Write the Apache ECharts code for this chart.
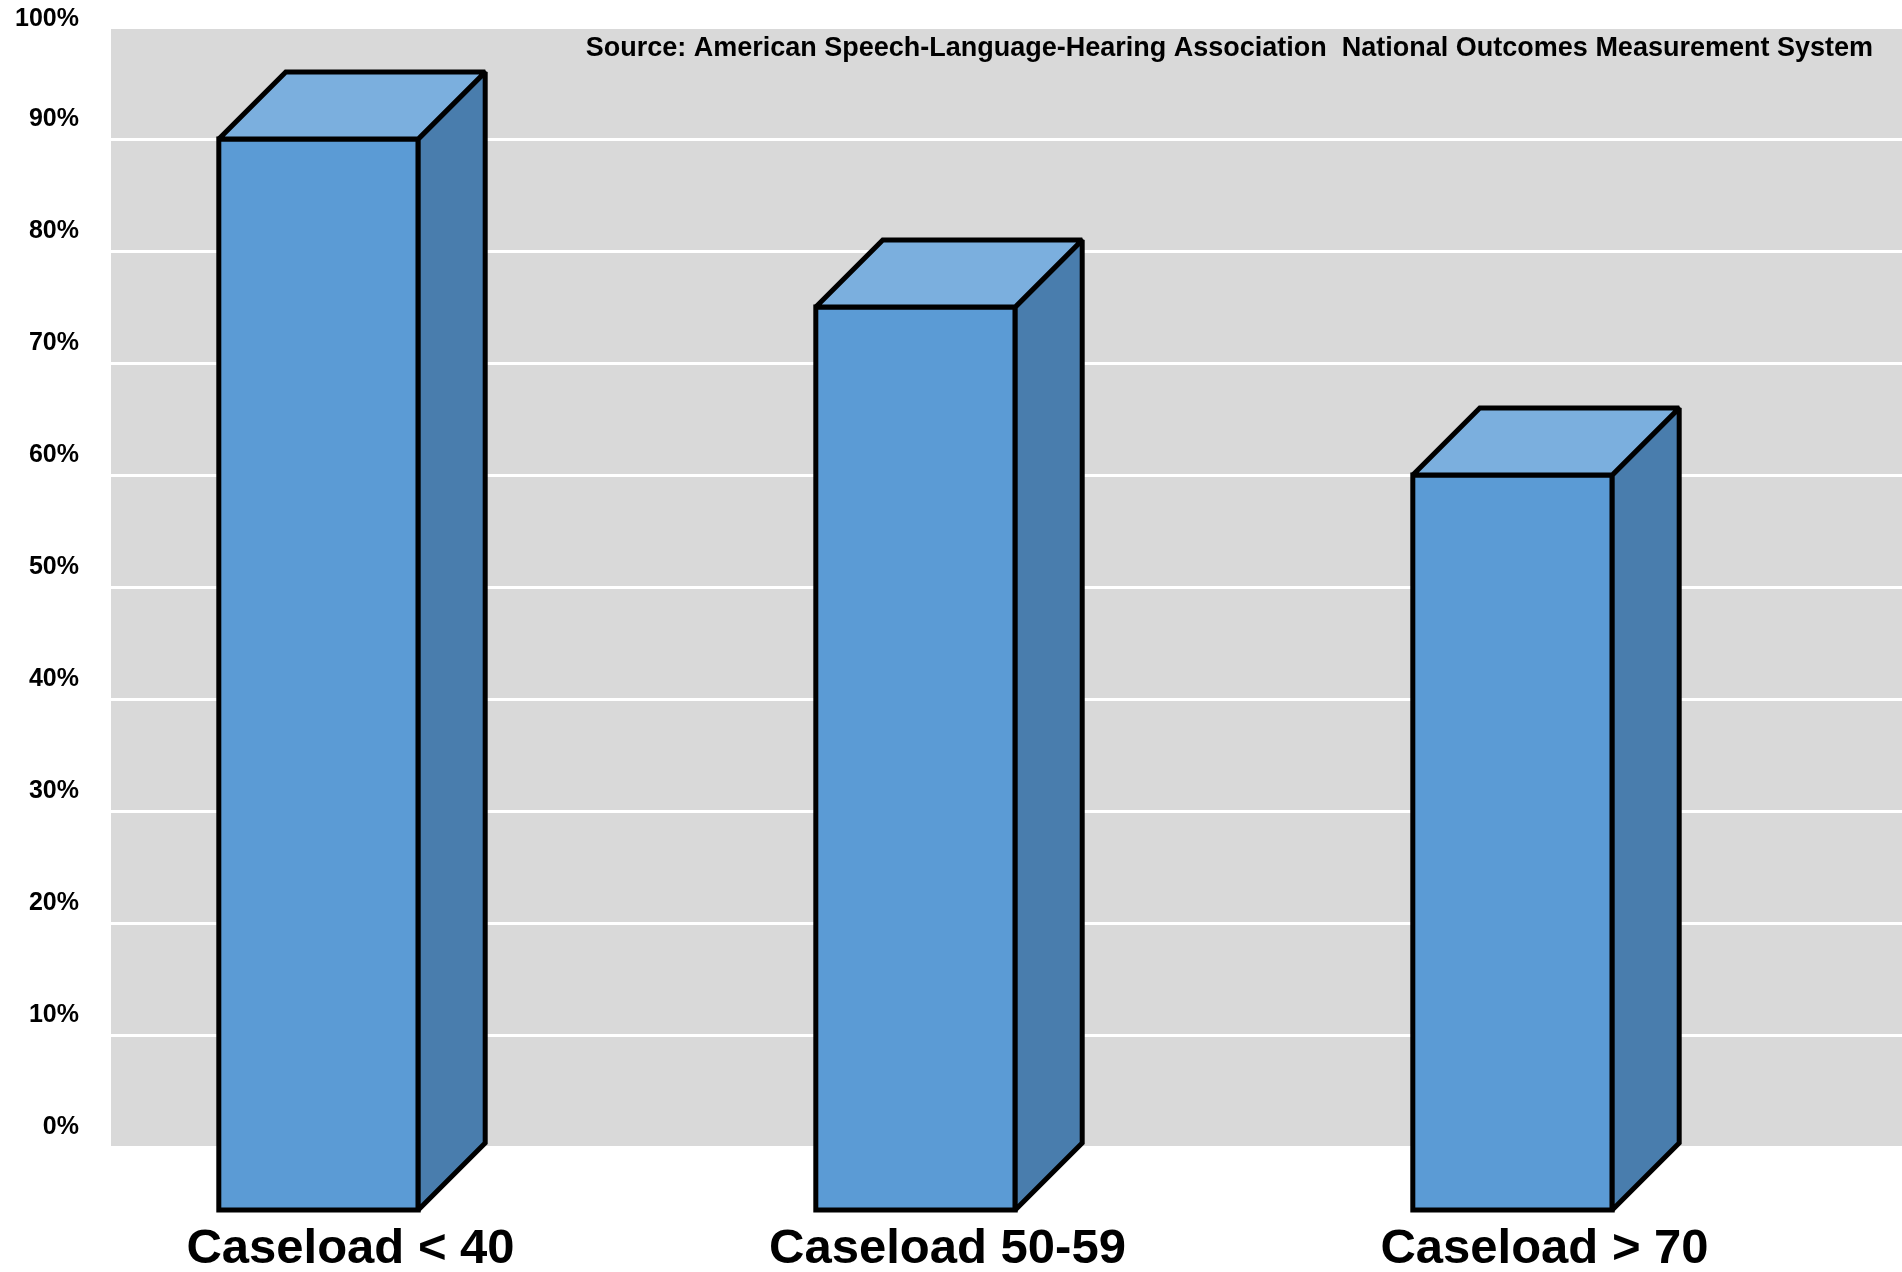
<!DOCTYPE html>
<html>
<head>
<meta charset="utf-8">
<script src="https://cdn.jsdelivr.net/npm/echarts@6/dist/echarts.min.js"></script>
<style>
  html, body { margin: 0; padding: 0; background: #fff; }
  #chart { width: 1902px; height: 1272px; }
</style>
</head>
<body>
<div id="chart"></div>
<script>
// data
const categories = ['Caseload < 40', 'Caseload 50-59', 'Caseload > 70']
const values = [90, 75, 60]
const yTicks = [0, 10, 20, 30, 40, 50, 60, 70, 80, 90, 100]
const sourceText = 'Source: American Speech-Language-Hearing Association  National Outcomes Measurement System'

const depth = 67
const shift = 91 // bars sit left of the band centre

const renderBox = (params, api) => {
  const top = api.coord([api.value(0), api.value(1)])
  const base = api.coord([api.value(0), 0])
  const w = api.size([1, 0])[0] * 0.334
  const x0 = top[0] - shift - w / 2
  const x1 = x0 + w
  const yT = top[1]
  const yB = base[1] + depth - 4
  const style = { stroke: '#000', lineWidth: 5, lineJoin: 'miter', miterLimit: 2 }
  return {
    type: 'group',
    children: [
      {
        type: 'polygon',
        shape: { points: [[x0, yT], [x1, yT], [x1, yB], [x0, yB]] },
        style: { ...style, fill: '#5b9bd5' }
      },
      {
        type: 'polygon',
        shape: { points: [[x1, yT], [x1 + depth, yT - depth], [x1 + depth, yB - depth], [x1, yB]] },
        style: { ...style, fill: '#497dad' }
      },
      {
        type: 'polygon',
        shape: { points: [[x0, yT], [x1, yT], [x1 + depth, yT - depth], [x0 + depth, yT - depth]] },
        style: { ...style, fill: '#7bafde' }
      }
    ]
  }
}

const labelFont = { fontFamily: 'Liberation Sans', fontWeight: 'bold', fontSize: 25, color: '#000' }

const option = {
  backgroundColor: '#fff',
  animation: false,
  title: {
    text: sourceText,
    right: 24,
    top: 30,
    textStyle: {
      fontFamily: 'Liberation Sans',
      fontWeight: 'bold',
      fontSize: 27,
      color: '#000'
    }
  },
  grid: {
    left: 111,
    right: 0,
    top: 27,
    bottom: 125,
    outerBoundsMode: 'none',
    show: true,
    backgroundColor: '#d9d9d9',
    borderWidth: 0
  },
  xAxis: {
    type: 'category',
    data: categories,
    axisLine: { show: false },
    axisTick: { show: false },
    axisLabel: {
      margin: 78,
      padding: [0, 118, 0, 0],
      fontFamily: 'Liberation Sans',
      fontWeight: 'bold',
      fontSize: 49,
      color: '#000'
    }
  },
  yAxis: {
    type: 'value',
    min: yTicks[0],
    max: yTicks[yTicks.length - 1],
    interval: 10,
    axisLine: { show: false },
    axisTick: { show: false },
    splitLine: { lineStyle: { color: '#fff', width: 3 } },
    axisLabel: {
      formatter: (v) => (v === 100 ? '{top|' + v + '%}' : '{n|' + v + '%}'),
      margin: 32,
      verticalAlign: 'bottom',
      ...labelFont,
      rich: {
        n: { ...labelFont, lineHeight: 40 },
        top: { ...labelFont, lineHeight: 16 }
      }
    }
  },
  series: [
    {
      type: 'custom',
      renderItem: renderBox,
      clip: false,
      data: values.map((v, i) => [i, v])
    }
  ]
}

const myChart = echarts.init(document.getElementById('chart'))
option && myChart.setOption(option)
</script>
</body>
</html>
